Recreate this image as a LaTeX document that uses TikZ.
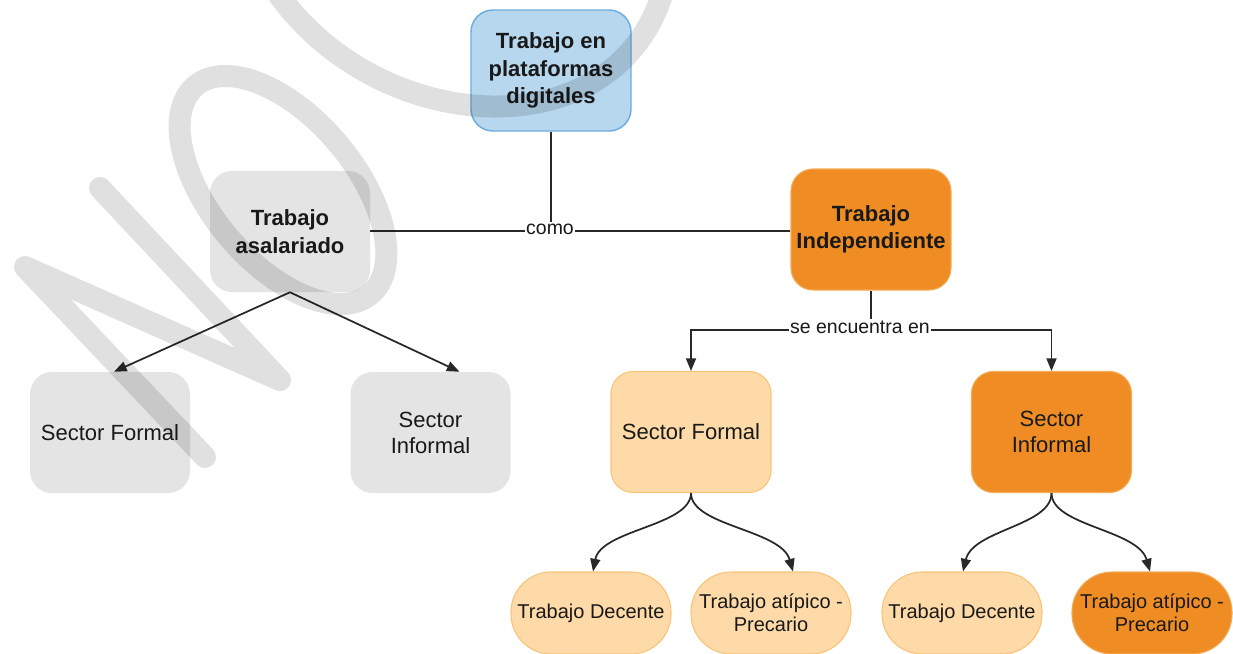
\documentclass[tikz,border=0pt]{standalone}
\usepackage{fontspec}
\setmainfont{Liberation Sans}
\usetikzlibrary{arrows.meta,calc}
\definecolor{grayfill}{RGB}{228,228,228}
\definecolor{bluefill}{RGB}{183,215,238}
\definecolor{blueline}{RGB}{110,172,222}
\definecolor{orangefill}{RGB}{239,141,36}
\definecolor{orangeline}{RGB}{245,170,85}
\definecolor{lightfill}{RGB}{253,218,168}
\definecolor{lightline}{RGB}{249,195,120}
\definecolor{linecol}{RGB}{40,40,40}
\definecolor{txt}{RGB}{25,25,25}
\begin{document}
\begin{tikzpicture}[x=0.75pt,y=-0.75pt,
 box/.style={rounded corners=16.5pt, minimum width=120pt, minimum height=90.75pt, align=center, inner sep=0pt, text=txt, font=\fontsize{16.5}{19.5}\selectfont},
 titlebox/.style={box, font=\fontsize{16.5}{20.5}\selectfont\bfseries},
 pill/.style={rounded corners=30pt, minimum width=120pt, minimum height=61.5pt, align=center, inner sep=0pt, text=txt, font=\fontsize{15}{17.5}\selectfont},
 grayb/.style={fill=grayfill},
 blueb/.style={fill=bluefill, draw=blueline, line width=1.1pt},
 orangeb/.style={fill=orangefill, draw=orangeline, line width=0.8pt},
 lightb/.style={fill=lightfill, draw=lightline, line width=0.8pt},
 conn/.style={draw=linecol, line width=1.3pt},
 arr/.style={conn, -{Triangle[length=9.5pt,width=7.5pt]}},
 lbl/.style={fill=white, inner sep=1pt, text=txt, font=\fontsize{14.6}{17}\selectfont},
 wm/.style={draw=black, draw opacity=0.12, line width=16.5pt, line cap=round, line join=round}
]
\clip (0,0) rectangle (1233,654);
\fill[white] (0,0) rectangle (1233,654);

% nodes
\node[titlebox, blueb] (top) at (551,70.5) {Trabajo en\\plataformas\\digitales};
\node[titlebox, grayb] (asal) at (290,231.5) {Trabajo\\asalariado};
\node[titlebox, orangeb] (indep) at (871,229.5) {Trabajo\\Independiente};
\node[box, grayb] (sfL) at (110,432.5) {Sector Formal};
\node[box, grayb] (siL) at (430.5,432.5) {Sector\\Informal};
\node[box, lightb] (sfR) at (691,432) {Sector Formal};
\node[box, orangeb] (siR) at (1051.5,432) {Sector\\Informal};
\node[pill, lightb] (td1) at (591,613) {Trabajo Decente};
\node[pill, lightb] (ta1) at (771,613) {Trabajo atípico -\\Precario};
\node[pill, lightb] (td2) at (962,613) {Trabajo Decente};
\node[pill, orangeb] (ta2) at (1152,613) {Trabajo atípico -\\Precario};

% labels
\node[lbl, anchor=mid] (como) at (550,231) {como};
\node[lbl, anchor=mid] (se) at (860,330) {se encuentra en};

% connectors
\draw[conn] (top.south) -- (top.south |- como.north);
\draw[conn] (asal.east |- como.mid west) -- (como.mid west);
\draw[conn] (como.mid east) -- (indep.west |- como.mid east);
\draw[arr] (asal.south) -- ($(sfL.north)+(4,0)$);
\draw[arr] (asal.south) -- ($(siL.north)+(29,0)$);
\draw[conn] (indep.south) -- (indep.south |- se.north);
\draw[arr] (se.mid west) -- (sfR.north |- se.mid west) -- (sfR.north);
\draw[arr] (se.mid east) -- (siR.north |- se.mid east) -- (siR.north);
\draw[arr] (sfR.south) .. controls ($(sfR.south)+(0,33)$) and ($(td1.north)+(10,-42)$) .. ($(td1.north)+(2,0)$);
\draw[arr] (sfR.south) .. controls ($(sfR.south)+(0,33)$) and ($(ta1.north)+(10,-42)$) .. ($(ta1.north)+(22,0)$);
\draw[arr] (siR.south) .. controls ($(siR.south)+(0,33)$) and ($(td2.north)+(11,-42)$) .. ($(td2.north)+(1,0)$);
\draw[arr] (siR.south) .. controls ($(siR.south)+(0,33)$) and ($(ta2.north)+(-14,-42)$) .. ($(ta2.north)+(-2,0)$);

% watermark
\path[wm] (205,457) -- (25,267) -- (280,380) -- (100,188);
\path[wm, shift={(283,190)}, rotate=-50] (0,0) ellipse [x radius=102pt, y radius=54pt];
\path[wm] (272,-15) .. controls (370,135) and (610,155) .. (662,-5);
\end{tikzpicture}
\end{document}
